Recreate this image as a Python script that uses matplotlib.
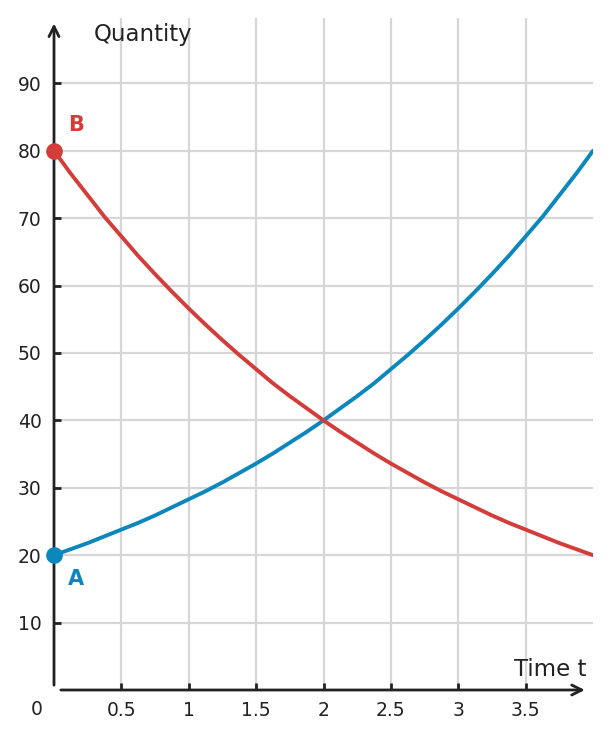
import matplotlib.pyplot as plt

# values
time = [0, 0.125, 0.25, 0.375, 0.5, 0.625, 0.75, 0.875, 1, 1.125, 1.25, 1.375, 1.5, 1.625, 1.75, 1.875,
        2, 2.125, 2.25, 2.375, 2.5, 2.625, 2.75, 2.875, 3, 3.125, 3.25, 3.375, 3.5, 3.625, 3.75, 3.875, 4]
qty_a = [20, 20.9, 21.8, 22.8, 23.8, 24.8, 25.9, 27.1, 28.3, 29.5, 30.8, 32.2, 33.6, 35.1, 36.7, 38.3,
         40, 41.8, 43.6, 45.5, 47.6, 49.7, 51.9, 54.2, 56.6, 59.1, 61.7, 64.4, 67.3, 70.2, 73.4, 76.6, 80]
qty_b = [80, 76.6, 73.4, 70.2, 67.3, 64.4, 61.7, 59.1, 56.6, 54.2, 51.9, 49.7, 47.6, 45.5, 43.6, 41.8,
         40, 38.3, 36.7, 35.1, 33.6, 32.2, 30.8, 29.5, 28.3, 27.1, 25.9, 24.8, 23.8, 22.8, 21.8, 20.9, 20]
x_ticks = [0.5, 1, 1.5, 2, 2.5, 3, 3.5]
x_labels = ["0.5", "1", "1.5", "2", "2.5", "3", "3.5"]
y_ticks = [10, 20, 30, 40, 50, 60, 70, 80, 90]

blue = "#0b87bd"
red = "#d43c3a"
ink = "#222222"

fig = plt.figure(figsize=(6.1, 7.39), dpi=100)
ax = fig.add_axes([54 / 610, 49 / 739, 539 / 610, 672 / 739])
ax.set_xlim(0, 4)
ax.set_ylim(0, 99.7)

for s in ax.spines.values():
    s.set_visible(False)

ax.set_xticks(x_ticks)
ax.set_xticklabels(x_labels)
ax.set_yticks(y_ticks)
ax.grid(color="#d6d6d6", linewidth=1.6)
ax.set_axisbelow(True)
ax.tick_params(axis="both", direction="in", length=5, width=2, color=ink,
               labelsize=13.5, labelcolor=ink)
ax.tick_params(axis="x", pad=8)
ax.tick_params(axis="y", pad=9)

# axes with arrows
ax.annotate("", xy=(0, 99.3), xytext=(0, 0.3),
            arrowprops=dict(arrowstyle="->", color=ink, lw=2, mutation_scale=18))
ax.annotate("", xy=(3.96, 0), xytext=(0.03, 0),
            arrowprops=dict(arrowstyle="->", color=ink, lw=2, mutation_scale=18))

ax.plot(time, qty_a, color=blue, linewidth=2.8, solid_capstyle="round", zorder=3)
ax.plot(time, qty_b, color=red, linewidth=2.8, solid_capstyle="round", zorder=3)
ax.plot([time[0]], [qty_a[0]], "o", color=blue, markersize=11, zorder=4, clip_on=False)
ax.plot([time[0]], [qty_b[0]], "o", color=red, markersize=11, zorder=4, clip_on=False)

ax.text(0.165, 16.5, "A", color=blue, fontsize=15, fontweight="bold", ha="center", va="center")
ax.text(0.165, 83.8, "B", color=red, fontsize=15, fontweight="bold", ha="center", va="center")

ax.text(0.295, 97.2, "Quantity", color=ink, fontsize=16.5, ha="left", va="center")
ax.text(3.95, 3.1, "Time t", color=ink, fontsize=16.5, ha="right", va="center")
ax.text(-0.13, -2.9, "0", color=ink, fontsize=13.5, ha="center", va="center")

fig.savefig("out.png", dpi=100)
